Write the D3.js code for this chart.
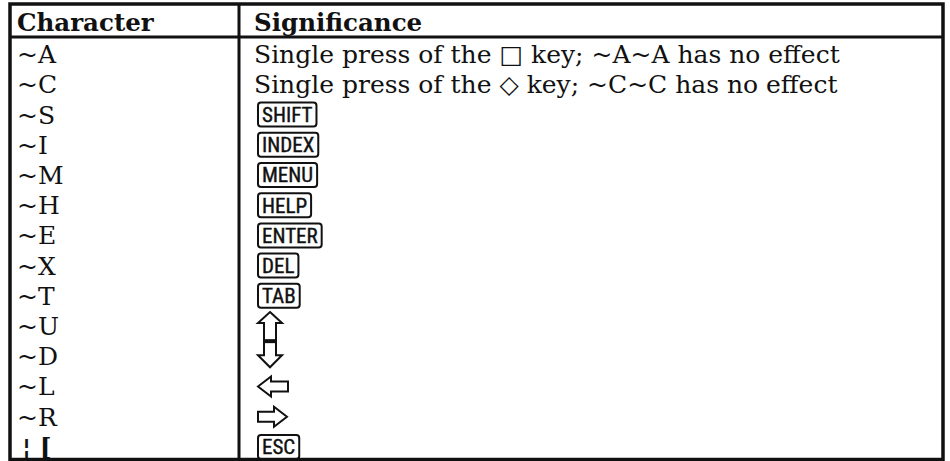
<!DOCTYPE html>
<html>
<head>
<meta charset="utf-8">
<script src="https://cdn.jsdelivr.net/npm/d3@7"></script>
<style>
  html, body { margin: 0; padding: 0; background: #fff; }
  svg { display: block; }
</style>
</head>
<body>
<svg id="chart" width="950" height="461"></svg>
<script>
// ---- data ----
const headers = ["Character", "Significance"];
const characters = ["~A", "~C", "~S", "~I", "~M", "~H", "~E", "~X", "~T", "~U", "~D", "~L", "~R", "¦ ["];
const kinds = ["text", "text", "key", "key", "key", "key", "key", "key", "key", "up", "down", "left", "right", "key"];
const significance = [
  "Single press of the \u25A1 key; ~A~A has no effect",
  "Single press of the \u25C7 key; ~C~C has no effect",
  "SHIFT", "INDEX", "MENU", "HELP", "ENTER", "DEL", "TAB",
  "", "", "", "", "ESC"
];

// ---- layout ----
const frameL = 10, frameR = 943, frameT = 4, frameB = 459.5, headerBottom = 37, divider = 239;
const serif = "'DejaVu Serif', 'Liberation Serif', serif";
const narrow = "'Liberation Sans Narrow', 'Roboto Condensed', 'Liberation Sans', sans-serif";

const svg = d3.select("#chart");
const rows = d3.range(characters.length);
const y = d3.scaleBand().domain(rows).range([39, 462]).padding(0);
const x = d3.scaleOrdinal().domain([0, 1]).range([17, 254]);
const cy = i => y(i) + y.bandwidth() / 2;

// ---- frame ----
svg.append("rect").attr("x", frameL).attr("y", frameT)
  .attr("width", frameR - frameL).attr("height", frameB - frameT)
  .attr("fill", "none").attr("stroke", "#111").attr("stroke-width", 3.5);
svg.append("line").attr("x1", frameL).attr("x2", frameR).attr("y1", headerBottom).attr("y2", headerBottom)
  .attr("stroke", "#111").attr("stroke-width", 3);
svg.append("line").attr("x1", divider).attr("x2", divider).attr("y1", frameT).attr("y2", frameB)
  .attr("stroke", "#111").attr("stroke-width", 3);

// ---- header ----
svg.selectAll("text.hdr").data(headers).join("text")
  .attr("class", "hdr")
  .attr("x", (d, i) => x(i)).attr("y", 31)
  .attr("font-family", serif).attr("font-weight", "bold").attr("font-size", 24.5)
  .attr("fill", "#111").text(d => d);

// ---- first column ----
const lastRow = characters.length - 1;
svg.selectAll("text.chr").data(characters).join("text")
  .attr("class", "chr")
  .attr("x", x(0)).attr("dx", (d, i) => i === lastRow ? 5 : 0)
  .attr("y", (d, i) => cy(i) + 9)
  .attr("font-family", serif).attr("font-size", 25)
  .attr("font-weight", (d, i) => i === lastRow ? "bold" : "normal")
  .attr("fill", "#111").text(d => d);

// ---- second column ----
const cells = rows.map(i => ({ i, kind: kinds[i], label: significance[i] }));

svg.selectAll("text.sig").data(cells.filter(c => c.kind === "text")).join("text")
  .attr("class", "sig")
  .attr("x", x(1)).attr("y", c => cy(c.i) + 9)
  .attr("font-family", serif).attr("font-size", 25)
  .attr("fill", "#111").text(c => c.label);

const keyG = svg.selectAll("g.key").data(cells.filter(c => c.kind === "key")).join("g")
  .attr("class", "key")
  .attr("transform", c => `translate(${x(1) + 4},${cy(c.i)})`);
keyG.append("text")
  .attr("x", 4).attr("y", 7.5)
  .attr("font-family", narrow).attr("font-size", 21)
  .attr("fill", "#111").attr("stroke", "#111").attr("stroke-width", 0.4)
  .text(c => c.label);
keyG.each(function () {
  const g = d3.select(this);
  const bb = g.select("text").node().getBBox();
  g.insert("rect", "text")
    .attr("x", 0).attr("y", -12)
    .attr("width", bb.width + 8).attr("height", 24)
    .attr("rx", 3).attr("ry", 3)
    .attr("fill", "none").attr("stroke", "#111").attr("stroke-width", 2);
});

// arrows
const ax = x(1) + 4; // arrow left edge
const arrowPath = {
  up: (c) => {
    const m = cy(c.i), b = y(c.i) + y.bandwidth();
    return `M${ax + 12},${m - 14} L${ax + 24},${m - 3} L${ax + 18},${m - 3} L${ax + 18},${b} L${ax + 6},${b} L${ax + 6},${m - 3} L${ax},${m - 3} Z`;
  },
  down: (c) => {
    const m = cy(c.i), t = y(c.i);
    return `M${ax + 6},${t} L${ax + 18},${t} L${ax + 18},${m - 1} L${ax + 24},${m - 1} L${ax + 12},${m + 11} L${ax},${m - 1} L${ax + 6},${m - 1} Z`;
  },
  left: (c) => {
    const m = cy(c.i);
    return `M${ax},${m} L${ax + 13},${m - 10} L${ax + 13},${m - 5} L${ax + 30},${m - 5} L${ax + 30},${m + 5} L${ax + 13},${m + 5} L${ax + 13},${m + 10} Z`;
  },
  right: (c) => {
    const m = cy(c.i);
    return `M${ax + 29},${m} L${ax + 16},${m - 10} L${ax + 16},${m - 5} L${ax},${m - 5} L${ax},${m + 5} L${ax + 16},${m + 5} L${ax + 16},${m + 10} Z`;
  }
};
svg.selectAll("path.arrow").data(cells.filter(c => arrowPath[c.kind])).join("path")
  .attr("class", "arrow")
  .attr("d", c => arrowPath[c.kind](c))
  .attr("fill", "none").attr("stroke", "#111").attr("stroke-width", 2).attr("stroke-linejoin", "miter");
// joining bar between up and down arrows
const upCell = cells.find(c => c.kind === "up");
svg.append("line")
  .attr("x1", ax + 6).attr("x2", ax + 18)
  .attr("y1", y(upCell.i) + y.bandwidth()).attr("y2", y(upCell.i) + y.bandwidth())
  .attr("stroke", "#111").attr("stroke-width", 4);
</script>
</body>
</html>
